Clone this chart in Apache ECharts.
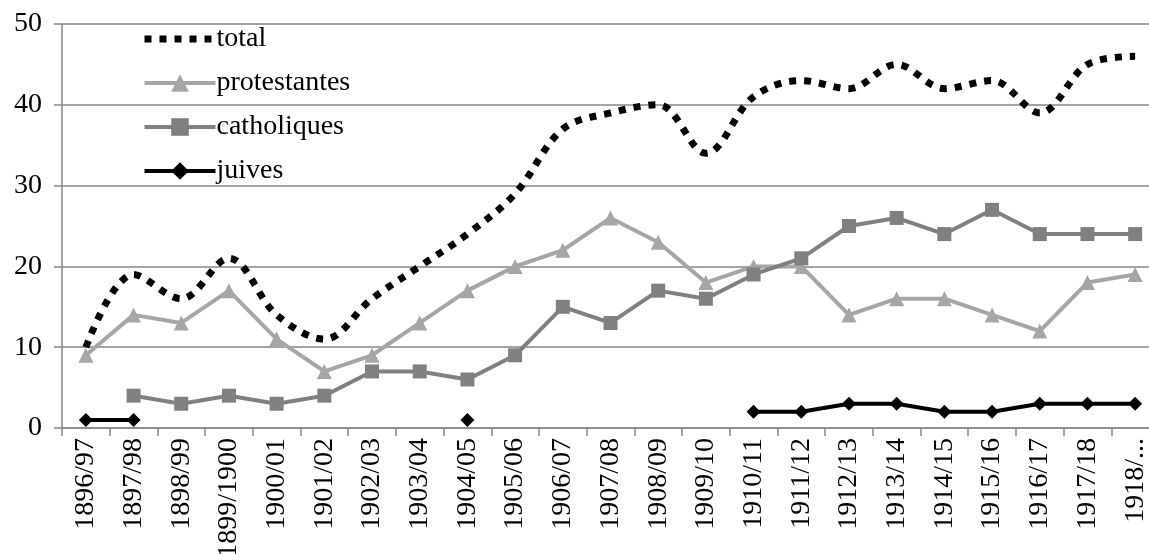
<!DOCTYPE html>
<html>
<head>
<meta charset="utf-8">
<script src="https://cdn.jsdelivr.net/npm/echarts@6/dist/echarts.min.js"></script>
<style>
  html, body { margin: 0; padding: 0; background: #fff; }
  #chart { width: 1149px; height: 554px; }
</style>
</head>
<body>
<div id="chart"></div>
<script>
// années scolaires
var annees = ['1896/97', '1897/98', '1898/99', '1899/1900', '1900/01', '1901/02', '1902/03',
  '1903/04', '1904/05', '1905/06', '1906/07', '1907/08', '1908/09', '1909/10', '1910/11',
  '1911/12', '1912/13', '1913/14', '1914/15', '1915/16', '1916/17', '1917/18', '1918/...'];

var total = [10, 19, 16, 21, 14, 11, 16, 20, 24, 29, 37, 39, 40, 34, 41, 43, 42, 45, 42, 43, 39, 45, 46];
var protestantes = [9, 14, 13, 17, 11, 7, 9, 13, 17, 20, 22, 26, 23, 18, 20, 20, 14, 16, 16, 14, 12, 18, 19];
var catholiques = [null, 4, 3, 4, 3, 4, 7, 7, 6, 9, 15, 13, 17, 16, 19, 21, 25, 26, 24, 27, 24, 24, 24];
var juives = [1, 1, null, null, null, null, null, null, 1, null, null, null, null, null,
  2, 2, 3, 3, 2, 2, 3, 3, 3];

var police = 'Liberation Serif, Times New Roman, serif';
var gris = '#868686';
var taille = 28;

var myChart = echarts.init(document.getElementById('chart'));

var option = {
  animation: false,
  textStyle: { fontFamily: police },
  grid: { left: 62, right: -10, top: 24, bottom: 126, outerBoundsMode: 'none' },
  legend: {
    orient: 'vertical',
    left: 141,
    top: 25,
    padding: 0,
    itemWidth: 71,
    itemHeight: 22,
    itemGap: 16,
    textStyle: { fontFamily: police, fontSize: taille, color: '#000', padding: [0, 0, 0, -4] },
    data: [
      { name: 'total', itemStyle: { opacity: 0 }, lineStyle: { width: 7, type: [7, 8], color: '#000' } },
      { name: 'protestantes', lineStyle: { width: 4 } },
      { name: 'catholiques', lineStyle: { width: 4 } },
      { name: 'juives', lineStyle: { width: 4 } }
    ]
  },
  xAxis: {
    type: 'category',
    data: annees,
    boundaryGap: true,
    axisLine: { lineStyle: { color: gris, width: 1.5 } },
    axisTick: { show: true, length: 8, interval: 0, lineStyle: { color: gris, width: 1.5 } },
    axisLabel: { interval: 0, rotate: 90, margin: 10, fontFamily: police, fontSize: taille, color: '#000' }
  },
  yAxis: {
    type: 'value',
    min: 0,
    max: 50,
    interval: 10,
    axisLine: { show: true, lineStyle: { color: gris, width: 1.5 } },
    axisTick: { show: true, length: 8, lineStyle: { color: gris, width: 1.5 } },
    axisLabel: { margin: 20, fontFamily: police, fontSize: taille, color: '#000' },
    splitLine: { lineStyle: { color: gris, width: 1.5 } }
  },
  series: [
    {
      name: 'total',
      type: 'line',
      data: total,
      smooth: 0.35,
      symbol: 'none',
      color: '#000',
      lineStyle: { color: '#000', width: 7, type: [7, 8] },
      z: 5
    },
    {
      name: 'protestantes',
      type: 'line',
      data: protestantes,
      symbol: 'triangle',
      symbolSize: 15,
      color: '#a6a6a6',
      lineStyle: { color: '#a6a6a6', width: 4 },
      itemStyle: { color: '#a6a6a6' }
    },
    {
      name: 'catholiques',
      type: 'line',
      data: catholiques,
      symbol: 'rect',
      symbolSize: 14,
      color: '#808080',
      lineStyle: { color: '#808080', width: 4 },
      itemStyle: { color: '#808080' }
    },
    {
      name: 'juives',
      type: 'line',
      data: juives,
      symbol: 'diamond',
      symbolSize: 14,
      showAllSymbol: true,
      color: '#000',
      lineStyle: { color: '#000', width: 4 },
      itemStyle: { color: '#000' }
    }
  ]
};

if (option && typeof option === 'object') {
  myChart.setOption(option, true);
}
</script>
</body>
</html>
